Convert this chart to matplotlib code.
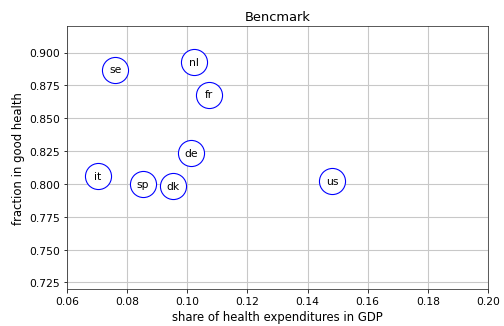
import matplotlib
matplotlib.use("Agg")
from matplotlib import pyplot as plt

countries = ['se', 'nl', 'fr', 'de', 'it', 'sp', 'dk', 'us']
health_share = [0.076, 0.1023, 0.1073, 0.1013, 0.0703, 0.0853, 0.0953, 0.1482]
good_health = [0.887, 0.893, 0.868, 0.8235, 0.806, 0.800, 0.7985, 0.8023]

plt.rcParams['font.size'] = 10.8
fig = plt.figure(figsize=(7, 4.54), dpi=72)
ax = fig.add_axes([0.133, 0.113, 0.835, 0.804])
ax.scatter(health_share, good_health, s=680, facecolors='white', edgecolors='blue',
           linewidths=1.1, zorder=3)
for c, x, y in zip(countries, health_share, good_health):
    ax.text(x, y, c, ha='center', va='center', fontsize=10.8, zorder=4)

ax.set_xlim(0.06, 0.20)
ax.set_ylim(0.72, 0.92)
ax.set_yticks([0.725, 0.75, 0.775, 0.8, 0.825, 0.85, 0.875, 0.9])
ax.yaxis.set_major_formatter(matplotlib.ticker.FormatStrFormatter('%.3f'))
ax.xaxis.set_major_formatter(matplotlib.ticker.FormatStrFormatter('%.2f'))
ax.grid(True, color='#c8c8c8', linewidth=1.1, zorder=0)
ax.set_axisbelow(True)
for sp in ax.spines.values():
    sp.set_color('#333333')
ax.set_xlabel('share of health expenditures in GDP', fontsize=11.6)
ax.set_ylabel('fraction in good health', fontsize=11.6)
ax.set_title('Bencmark', fontsize=13)
fig.savefig('out.png', dpi=72)
